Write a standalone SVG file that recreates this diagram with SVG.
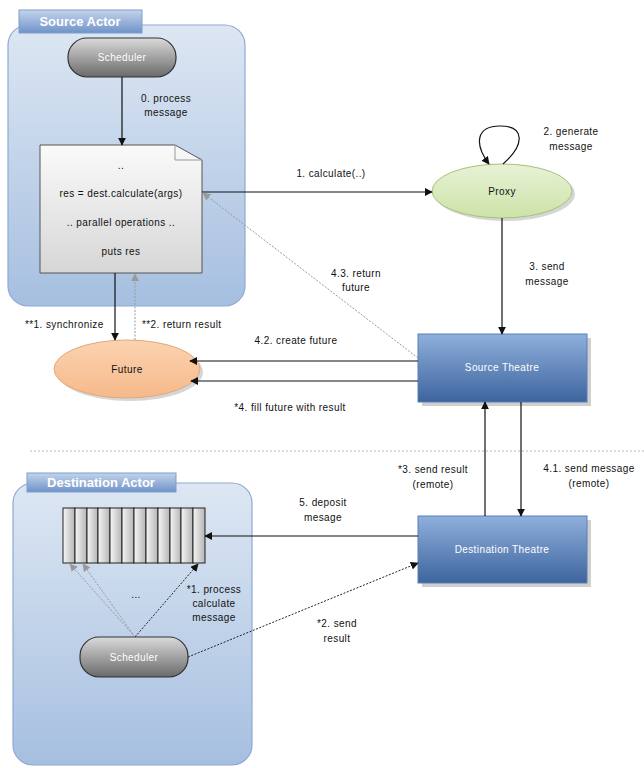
<svg xmlns="http://www.w3.org/2000/svg" width="644" height="768" viewBox="0 0 644 768">
<defs>
<linearGradient id="gCont" x1="0" y1="0" x2="0" y2="1"><stop offset="0" stop-color="#dde7f3"/><stop offset="1" stop-color="#a6bfe0"/></linearGradient>
<linearGradient id="gTab" x1="0" y1="0" x2="0" y2="1"><stop offset="0" stop-color="#c3d4ec"/><stop offset="1" stop-color="#6f93c8"/></linearGradient>
<linearGradient id="gTheatre" x1="0" y1="0" x2="0" y2="1"><stop offset="0" stop-color="#8fb0dc"/><stop offset="1" stop-color="#3d649e"/></linearGradient>
<linearGradient id="gSched" x1="0" y1="0" x2="0" y2="1"><stop offset="0" stop-color="#dadada"/><stop offset="1" stop-color="#6a6a6a"/></linearGradient>
<linearGradient id="gNote" x1="0" y1="0" x2="0" y2="1"><stop offset="0" stop-color="#fafafa"/><stop offset="1" stop-color="#d6d6d6"/></linearGradient>
<linearGradient id="gCell" x1="0" y1="0" x2="1" y2="0"><stop offset="0" stop-color="#f6f6f6"/><stop offset="1" stop-color="#b4b4b4"/></linearGradient>
<linearGradient id="gFuture" x1="0" y1="0" x2="0" y2="1"><stop offset="0" stop-color="#fbd3b0"/><stop offset="1" stop-color="#f6b98a"/></linearGradient>
<linearGradient id="gProxy" x1="0" y1="0" x2="0" y2="1"><stop offset="0" stop-color="#e8f2d6"/><stop offset="1" stop-color="#cde2a8"/></linearGradient>
<marker id="ah" viewBox="0 0 10 10" refX="9" refY="5" markerWidth="8" markerHeight="8" orient="auto" markerUnits="userSpaceOnUse"><path d="M0,0 L10,5 L0,10 z" fill="#111"/></marker>
<marker id="ahg" viewBox="0 0 10 10" refX="9" refY="5" markerWidth="8" markerHeight="8" orient="auto" markerUnits="userSpaceOnUse"><path d="M0,0 L10,5 L0,10 z" fill="#999"/></marker>
</defs>
<style>
text{font-family:"Liberation Sans",Arial,sans-serif;font-size:10px;fill:#111;letter-spacing:0.4px}
.c{text-anchor:middle}
.w{fill:#fff}
.tab{font-weight:bold;font-size:13px;fill:#fff;letter-spacing:0}
.cont{fill:url(#gCont);stroke:#8faad2;stroke-width:1.2}
.tabr{fill:url(#gTab);stroke:#7f9fcc;stroke-width:1}
.theatre{fill:url(#gTheatre);stroke:#5b7fb5;stroke-width:1}
.shadow{fill:#cfcfcf}
.sched{fill:url(#gSched);stroke:#333;stroke-width:1.2}
.cell{fill:url(#gCell);stroke:#222;stroke-width:1}
.ln{fill:none;stroke:#111;stroke-width:1.2}
.dash{fill:none;stroke:#222;stroke-width:1;stroke-dasharray:2,1.5}
.gd{fill:none;stroke:#999;stroke-width:1;stroke-dasharray:2,1.5}
</style>

<g id="source-actor">
<rect class="cont" x="8" y="25" width="237" height="281" rx="20"/>
<rect class="tabr" x="19" y="10" width="123" height="23"/>
<text class="tab" x="80" y="26" text-anchor="middle">Source Actor</text>
</g>

<g id="destination-actor">
<rect class="cont" x="13" y="483" width="239" height="282" rx="20"/>
<rect class="tabr" x="27" y="473" width="149" height="19"/>
<text class="tab" x="101" y="487" text-anchor="middle">Destination Actor</text>
</g>

<line x1="30" y1="451" x2="644" y2="451" stroke="#bbb" stroke-width="1" stroke-dasharray="2,2"/>

<g id="scheduler-src">
<rect class="sched" x="68" y="38" width="108" height="39" rx="19"/>
<text class="c w" x="122" y="61">Scheduler</text>
</g>

<g id="note">
<path d="M40,145 L175,145 L202,160 L202,273 L40,273 z" fill="url(#gNote)" stroke="#555" stroke-width="1"/>
<path d="M175,145 L175,160 L202,160" fill="none" stroke="#999" stroke-width="1"/>
<text class="c" x="121" y="169">..</text>
<text class="c" x="121" y="197">res = dest.calculate(args)</text>
<text class="c" x="121" y="226">.. parallel operations ..</text>
<text class="c" x="121" y="255">puts res</text>
</g>

<g id="proxy">
<ellipse cx="505" cy="194" rx="70" ry="27" fill="#d6d6d6"/>
<ellipse cx="502" cy="191" rx="70" ry="27" fill="url(#gProxy)" stroke="#a8c07c" stroke-width="1"/>
<text class="c" x="502" y="195">Proxy</text>
</g>

<g id="future">
<ellipse cx="130" cy="372" rx="73" ry="29" fill="#d6d6d6"/>
<ellipse cx="127" cy="369" rx="73" ry="29" fill="url(#gFuture)" stroke="#e2a878" stroke-width="1"/>
<text class="c" x="127" y="373">Future</text>
</g>

<g id="source-theatre">
<rect class="shadow" x="422" y="338" width="169" height="68"/>
<rect class="theatre" x="418" y="334" width="169" height="68"/>
<text class="c w" x="502" y="371">Source Theatre</text>
</g>

<g id="destination-theatre">
<rect class="shadow" x="422" y="520" width="169" height="67"/>
<rect class="theatre" x="418" y="516" width="169" height="67"/>
<text class="c w" x="502" y="553">Destination Theatre</text>
</g>

<g id="queue">
<rect class="cell" x="63" y="508" width="12" height="55"/>
<rect class="cell" x="75" y="508" width="12" height="55"/>
<rect class="cell" x="87" y="508" width="11" height="55"/>
<rect class="cell" x="98" y="508" width="12" height="55"/>
<rect class="cell" x="110" y="508" width="12" height="55"/>
<rect class="cell" x="122" y="508" width="12" height="55"/>
<rect class="cell" x="134" y="508" width="12" height="55"/>
<rect class="cell" x="146" y="508" width="12" height="55"/>
<rect class="cell" x="158" y="508" width="12" height="55"/>
<rect class="cell" x="170" y="508" width="11" height="55"/>
<rect class="cell" x="181" y="508" width="12" height="55"/>
<rect class="cell" x="193" y="508" width="12" height="55"/>
</g>

<g id="scheduler-dst">
<rect class="sched" x="80" y="637" width="108" height="40" rx="19"/>
<text class="c w" x="134" y="661">Scheduler</text>
</g>

<g id="connectors">
<line class="ln" x1="122" y1="77" x2="122" y2="145" marker-end="url(#ah)"/>
<line class="ln" x1="202" y1="192" x2="432" y2="192" marker-end="url(#ah)"/>
<path class="ln" d="M503,164 C526,144 524,126 500,126 C476,126 474,144 489,164" marker-end="url(#ah)"/>
<line class="ln" x1="502" y1="218" x2="502" y2="334" marker-end="url(#ah)"/>
<line class="gd" x1="418" y1="358" x2="203" y2="193" marker-end="url(#ahg)"/>
<line class="ln" x1="418" y1="361" x2="190" y2="361" marker-end="url(#ah)"/>
<line class="ln" x1="418" y1="381" x2="191" y2="381" marker-end="url(#ah)"/>
<line class="ln" x1="115" y1="273" x2="115" y2="340" marker-end="url(#ah)"/>
<line class="gd" x1="135" y1="340" x2="135" y2="274" marker-end="url(#ahg)"/>
<line class="ln" x1="485" y1="516" x2="485" y2="402" marker-end="url(#ah)"/>
<line class="ln" x1="521" y1="402" x2="521" y2="516" marker-end="url(#ah)"/>
<line class="ln" x1="418" y1="536" x2="205" y2="536" marker-end="url(#ah)"/>
<line class="dash" x1="188" y1="657" x2="418" y2="563" marker-end="url(#ah)"/>
<line class="gd" x1="135" y1="637" x2="70" y2="564" marker-end="url(#ahg)"/>
<line class="gd" x1="135" y1="637" x2="83" y2="564" marker-end="url(#ahg)"/>
<line class="dash" x1="135" y1="637" x2="198" y2="564" marker-end="url(#ah)"/>
</g>

<g id="labels">
<text class="c" x="166" y="102">0. process</text>
<text class="c" x="166" y="116">message</text>
<text class="c" x="331" y="177">1. calculate(..)</text>
<text class="c" x="571" y="135">2. generate</text>
<text class="c" x="571" y="150">message</text>
<text class="c" x="547" y="270">3. send</text>
<text class="c" x="547" y="285">message</text>
<text class="c" x="356" y="277">4.3. return</text>
<text class="c" x="356" y="291">future</text>
<text class="c" x="296" y="344">4.2. create future</text>
<text class="c" x="290" y="411">*4. fill future with result</text>
<text x="25" y="328">**1. synchronize</text>
<text x="142" y="328">**2. return result</text>
<text class="c" x="433" y="473">*3. send result</text>
<text class="c" x="433" y="488">(remote)</text>
<text class="c" x="589" y="472">4.1. send message</text>
<text class="c" x="589" y="487">(remote)</text>
<text class="c" x="323" y="506">5. deposit</text>
<text class="c" x="323" y="521">mesage</text>
<text class="c" x="136" y="598">...</text>
<text class="c" x="214" y="593">*1. process</text>
<text class="c" x="214" y="607">calculate</text>
<text class="c" x="214" y="621">message</text>
<text class="c" x="337" y="627">*2. send</text>
<text class="c" x="337" y="642">result</text>
</g>
</svg>
